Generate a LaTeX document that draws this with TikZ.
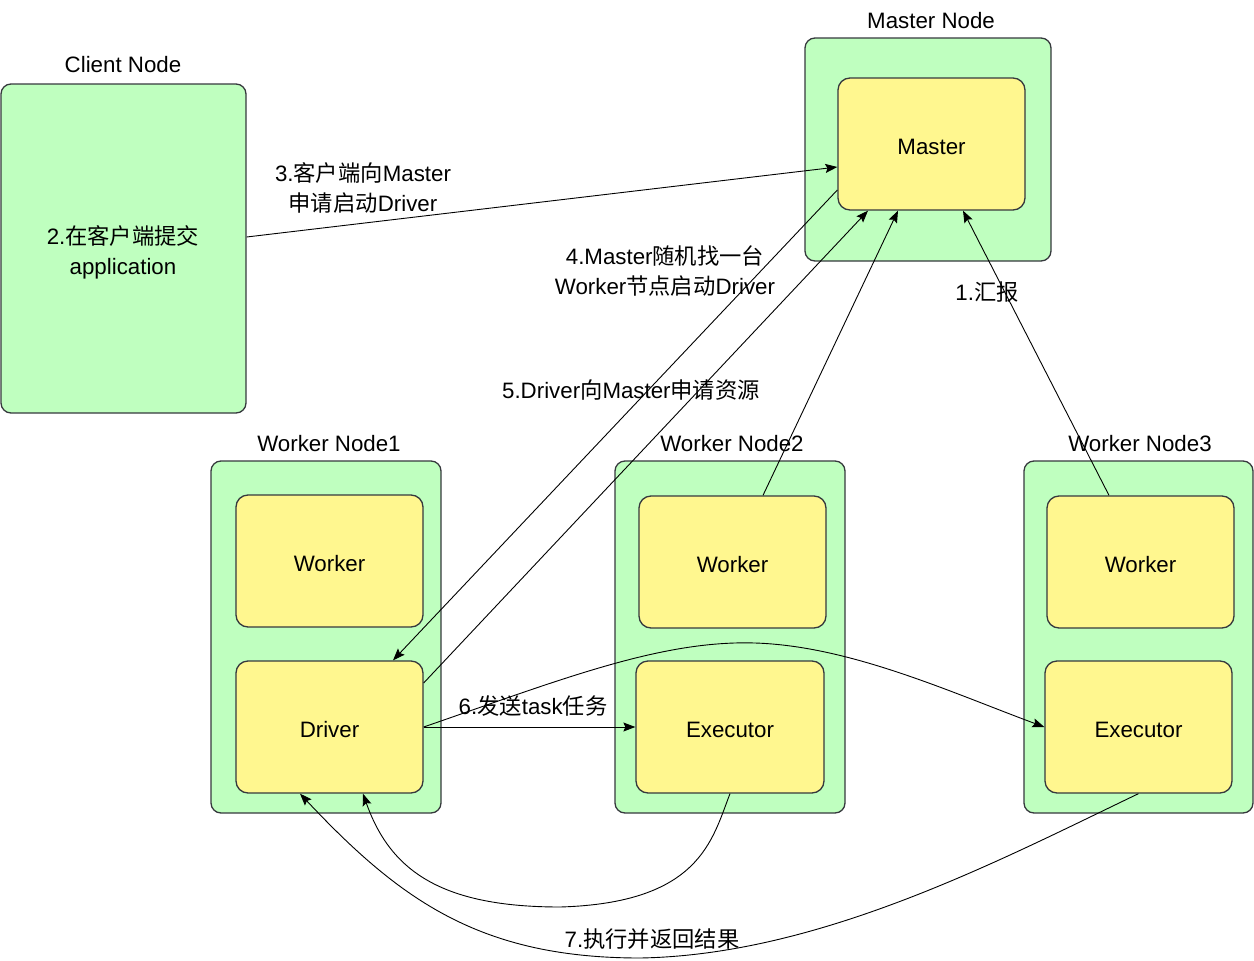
\documentclass[tikz,border=0pt]{standalone}
\usepackage{fontspec}
\setmainfont{Liberation Sans}
\newfontfamily\cjk{Noto Sans CJK SC}
\usetikzlibrary{arrows.meta}
\newcommand{\zh}[1]{{\cjk #1}}
\definecolor{nodegreen}{RGB}{191,255,191}
\definecolor{nodeyellow}{RGB}{255,247,143}
\definecolor{bordergray}{RGB}{54,57,61}
\tikzset{
  outerbox/.style={draw=bordergray, fill=nodegreen, rounded corners=10pt, line width=1.3pt, minimum width=#1, inner sep=0pt},
  innerbox/.style={draw=bordergray, fill=nodeyellow, rounded corners=12pt, line width=1.3pt, minimum width=187pt, minimum height=132pt, inner sep=0pt, text height=20pt, text depth=0pt},
  txt/.style={font=\fontsize{22.3}{30}\selectfont, inner sep=0pt, align=center},
  conn/.style={draw=black, line width=0.9pt, -{Stealth[length=12pt,width=9pt,inset=2pt]}},
  plain/.style={draw=black, line width=0.9pt}
}
\begin{document}
\begin{tikzpicture}[x=1pt,y=-1pt]
\useasboundingbox (0,0) rectangle (1254,961);
% outer boxes
\node[outerbox=245pt, minimum height=329pt] (client) at (123.5,248.5) {};
\node[outerbox=246pt, minimum height=223pt] (mnode) at (928,149.5) {};
\node[outerbox=230pt, minimum height=352pt] (wn1) at (326,637) {};
\node[outerbox=230pt, minimum height=352pt] (wn2) at (730,637) {};
\node[outerbox=229pt, minimum height=352pt] (wn3) at (1138.5,637) {};
% inner boxes
\node[innerbox, txt] (master) at (931.5,144) {Master};
\node[innerbox, txt] (w1) at (329.5,561) {Worker};
\node[innerbox, txt] (driver) at (329.5,727) {Driver};
\node[innerbox, txt] (w2) at (732.5,562) {Worker};
\node[innerbox, txt, minimum width=188pt] (e2) at (730,727) {Executor};
\node[innerbox, txt] (w3) at (1140.5,562) {Worker};
\node[innerbox, txt] (e3) at (1138.5,727) {Executor};
% titles
\node[txt] (tclient) at (123,65) {Client Node};
\node[txt] (tmaster) at (931,21) {Master Node};
\node[txt] (twn1) at (329,444) {Worker Node1};
\node[txt] (twn2) at (732,444) {Worker Node2};
\node[txt] (twn3) at (1140,444) {Worker Node3};
\node[txt] (ctext) at (123,252) {2.\zh{在客户端提交}\\application};
% connectors
\draw[conn] ([yshift=11.5pt]client.east) -- ([yshift=-23pt]master.west);
\draw[conn] ([yshift=-46pt]master.west) -- ([xshift=63.5pt]driver.north);
\draw[conn] ([yshift=44pt]driver.east) -- ([xshift=-63.5pt]master.south);
\draw[conn] ([xshift=30.5pt]w2.north) -- ([xshift=-33.5pt]master.south);
\draw[conn] ([xshift=-31.5pt]w3.north) -- ([xshift=31.5pt]master.south);
\draw[conn] (driver.east) -- (e2.west);
\draw[conn] (driver.east) .. controls (560,680) and (660,640) .. (755,643) .. controls (850,646) and (950,692) .. (e3.west);
\draw[conn] (e2.south) .. controls (712,840) and (700,903) .. (560,907) .. controls (440,907) and (390,870) .. ([xshift=33.5pt]driver.south);
\draw[conn] (e3.south) .. controls (1000,860) and (820,955) .. (640,958) .. controls (480,958) and (400,900) .. ([xshift=-29.5pt]driver.south);
% labels
\node[txt] (l3) at (363,188) {3.\zh{客户端向}Master\\\zh{申请启动}Driver};
\node[txt] (l4) at (665,271) {4.Master\zh{随机找一台}\\Worker\zh{节点启动}Driver};
\node[txt] (l5) at (631,390) {5.Driver\zh{向}Master\zh{申请资源}};
\node[txt] (l1) at (987,292) {1.\zh{汇报}};
\node[txt] (l6) at (533,706) {6.\zh{发送}task\zh{任务}};
\node[txt] (l7) at (652,939) {7.\zh{执行并返回结果}};
\end{tikzpicture}
\end{document}
